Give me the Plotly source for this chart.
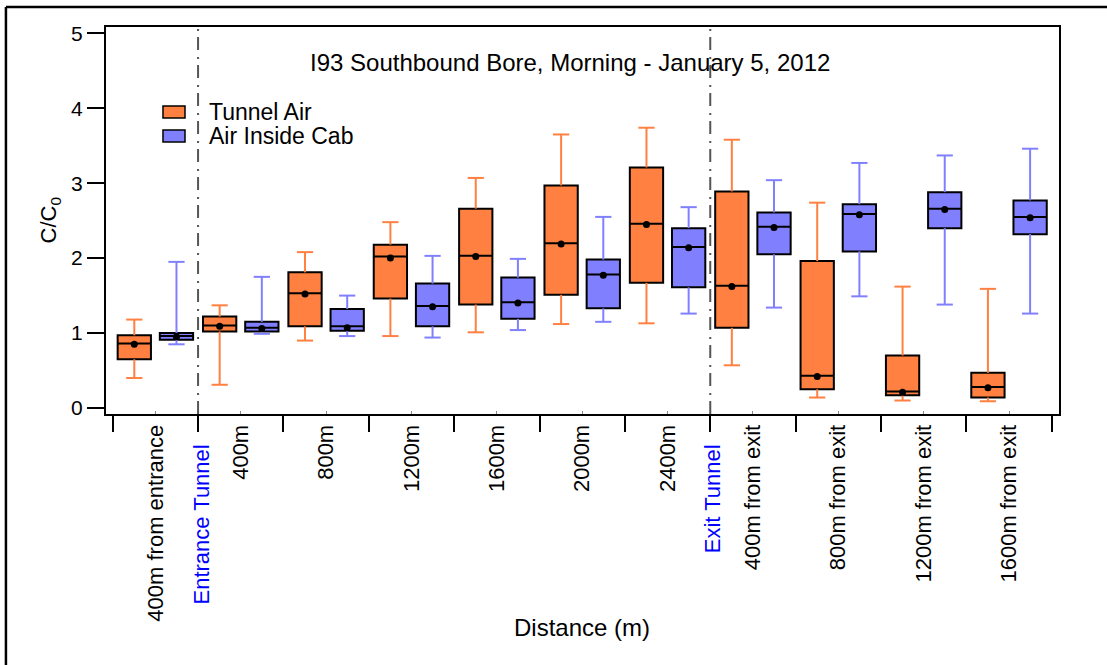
import plotly.graph_objects as go

# Sampling locations along the I93 southbound bore
categories = ["400m from entrance", "400m", "800m", "1200m", "1600m", "2000m",
              "2400m", "400m from exit", "800m from exit", "1200m from exit",
              "1600m from exit"]

# Tunnel air: whisker ends, quartiles, median and mean of C/C0
tunnel_low = [0.40, 0.31, 0.90, 0.96, 1.01, 1.12, 1.13, 0.57, 0.14, 0.10, 0.09]
tunnel_q1 = [0.65, 1.02, 1.09, 1.46, 1.38, 1.51, 1.67, 1.07, 0.25, 0.17, 0.14]
tunnel_med = [0.86, 1.10, 1.53, 2.02, 2.03, 2.20, 2.46, 1.63, 0.43, 0.22, 0.28]
tunnel_q3 = [0.97, 1.22, 1.81, 2.18, 2.66, 2.97, 3.21, 2.89, 1.96, 0.70, 0.47]
tunnel_high = [1.18, 1.37, 2.08, 2.48, 3.07, 3.65, 3.74, 3.58, 2.74, 1.62, 1.59]
tunnel_mean = [0.85, 1.09, 1.52, 2.00, 2.02, 2.19, 2.45, 1.62, 0.42, 0.21, 0.27]

# Air inside the cab
cab_low = [0.85, 0.99, 0.96, 0.94, 1.04, 1.15, 1.26, 1.34, 1.49, 1.38, 1.26]
cab_q1 = [0.91, 1.02, 1.03, 1.09, 1.19, 1.33, 1.61, 2.05, 2.09, 2.40, 2.32]
cab_med = [0.96, 1.07, 1.09, 1.36, 1.41, 1.78, 2.15, 2.42, 2.59, 2.66, 2.55]
cab_q3 = [1.00, 1.15, 1.32, 1.66, 1.74, 1.98, 2.40, 2.61, 2.72, 2.88, 2.77]
cab_high = [1.95, 1.75, 1.50, 2.03, 1.99, 2.55, 2.68, 3.04, 3.27, 3.37, 3.46]
cab_mean = [0.95, 1.06, 1.07, 1.35, 1.40, 1.77, 2.14, 2.41, 2.58, 2.65, 2.54]

y_ticks = [0, 1, 2, 3, 4, 5]
boundary_labels = {1: "Entrance Tunnel", 7: "Exit Tunnel"}

ORANGE = "#FF8040"
BLUE = "#8080FF"
FONT = "Liberation Sans, Arial, sans-serif"
BOX_W = 0.39      # box width in category units
CAP_W = 0.19      # whisker cap width
OFFSET = 0.247    # half-distance between paired boxes

centers = [i + 0.5 for i in range(len(categories))]

fig = go.Figure()


def add_series(name, color, shift, low, q1, med, q3, high, mean):
    xs = [c + shift for c in centers]
    # box body: from Q1 to Q3
    fig.add_trace(go.Bar(
        name=name, x=xs, y=[b - a for a, b in zip(q1, q3)], base=q1,
        width=BOX_W, marker=dict(color=color, line=dict(color="black", width=2)),
        showlegend=False, hoverinfo="skip"))
    # whiskers with caps
    wx, wy = [], []
    for x, lo, a, b, hi in zip(xs, low, q1, q3, high):
        wx += [x, x, None, x, x, None,
               x - CAP_W / 2, x + CAP_W / 2, None, x - CAP_W / 2, x + CAP_W / 2, None]
        wy += [b, hi, None, lo, a, None, hi, hi, None, lo, lo, None]
    fig.add_trace(go.Scatter(x=wx, y=wy, mode="lines",
                             line=dict(color=color, width=2),
                             showlegend=False, hoverinfo="skip"))
    # median bars
    mx, my = [], []
    for x, m in zip(xs, med):
        mx += [x - BOX_W / 2, x + BOX_W / 2, None]
        my += [m, m, None]
    fig.add_trace(go.Scatter(x=mx, y=my, mode="lines",
                             line=dict(color="black", width=2),
                             showlegend=False, hoverinfo="skip"))
    # means
    fig.add_trace(go.Scatter(x=xs, y=mean, mode="markers",
                             marker=dict(color="black", size=7),
                             showlegend=False))


add_series("Tunnel Air", ORANGE, -OFFSET, tunnel_low, tunnel_q1, tunnel_med,
           tunnel_q3, tunnel_high, tunnel_mean)
add_series("Air Inside Cab", BLUE, OFFSET, cab_low, cab_q1, cab_med,
           cab_q3, cab_high, cab_mean)

shapes = []
annotations = []

# tunnel entrance / exit markers
for pos, label in boundary_labels.items():
    shapes.append(dict(type="line", xref="x", yref="paper", x0=pos, x1=pos,
                       y0=0, y1=1, layer="below",
                       line=dict(color="#555555", width=2, dash="13px,6px,2px,7px")))
    annotations.append(dict(x=pos, xref="x", y=-0.0735, yref="paper", text=label,
                            textangle=-90, showarrow=False, xanchor="center",
                            yanchor="top", xshift=3,
                            font=dict(family=FONT, size=22, color="#0000FF")))

# legend
legend_items = [("Tunnel Air", ORANGE, 0.796), ("Air Inside Cab", BLUE, 0.734)]
for text, color, ytop in legend_items:
    shapes.append(dict(type="rect", xref="paper", yref="paper",
                       x0=0.0598, x1=0.0829, y0=ytop - 0.031, y1=ytop,
                       fillcolor=color, line=dict(color="black", width=1.5)))
    annotations.append(dict(x=0.106, xref="paper", y=ytop - 0.0155, yref="paper",
                            text=text, showarrow=False, xanchor="left", yanchor="middle",
                            font=dict(family=FONT, size=23, color="black")))

# outer frame (top and left edges)
shapes.append(dict(type="line", xref="paper", yref="paper", x0=-0.105, x1=1.08,
                   y0=1.0516, y1=1.0516, line=dict(color="black", width=2.5)))
shapes.append(dict(type="line", xref="paper", yref="paper", x0=-0.105, x1=-0.105,
                   y0=1.0516, y1=-0.7, line=dict(color="black", width=2.5)))

annotations.append(dict(x=0.487, xref="paper", y=0.907, yref="paper",
                        text="I93 Southbound Bore, Morning - January 5, 2012",
                        showarrow=False, xanchor="center", yanchor="middle",
                        font=dict(family=FONT, size=24, color="black")))
annotations.append(dict(x=0.4995, xref="paper", y=-0.551, yref="paper",
                        text="Distance (m)", showarrow=False,
                        xanchor="center", yanchor="middle",
                        font=dict(family=FONT, size=24, color="black")))
annotations.append(dict(x=-0.0588, xref="paper", y=0.5, yref="paper",
                        text="C/C<sub>0</sub>", textangle=-90, showarrow=False,
                        xanchor="center", yanchor="middle",
                        font=dict(family=FONT, size=22, color="black")))

fig.update_layout(
    width=1107, height=665,
    margin=dict(l=106, r=48, t=27, b=250.5),
    paper_bgcolor="white", plot_bgcolor="white",
    barmode="overlay", showlegend=False,
    shapes=shapes, annotations=annotations,
    font=dict(family=FONT, size=21, color="black"),
)
fig.update_xaxes(
    range=[-0.0785, 11.0855], showgrid=False, zeroline=False,
    showline=True, mirror=True, linecolor="black", linewidth=2,
    tickmode="array", tickvals=centers, ticktext=categories,
    ticks="inside", ticklen=3, tickwidth=1, tickcolor="#888888",
    tickangle=-90, tickfont=dict(family=FONT, size=22, color="black"),
    minor=dict(tickvals=list(range(len(categories) + 1)), ticks="outside",
               ticklen=16, tickwidth=2, tickcolor="black", showgrid=False),
)
fig.update_yaxes(
    range=[-0.08, 5.084], showgrid=False, zeroline=False,
    showline=True, mirror=True, linecolor="black", linewidth=2,
    tickmode="array", tickvals=y_ticks, ticks="outside", ticklen=17,
    tickwidth=2, tickcolor="black",
    tickfont=dict(family=FONT, size=21, color="black"),
)

fig.write_html("out.html")
